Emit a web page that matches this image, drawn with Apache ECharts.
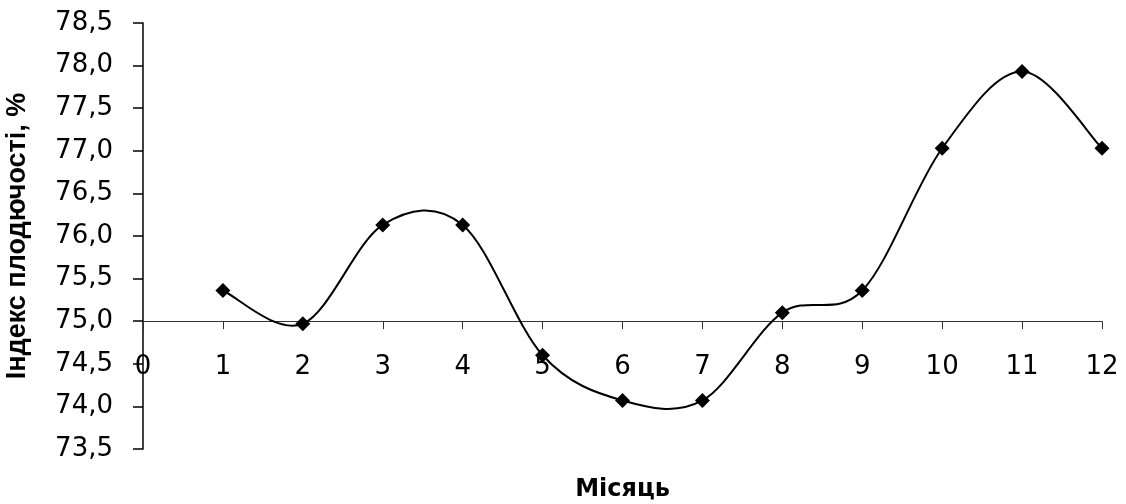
<!DOCTYPE html>
<html>
<head>
<meta charset="utf-8">
<script src="https://cdn.jsdelivr.net/npm/echarts@6/dist/echarts.min.js"></script>
<style>
  html, body { margin: 0; padding: 0; background: #fff; }
  #chart { width: 1126px; height: 504px; }
</style>
</head>
<body>
<div id="chart"></div>
<script>
// Fertility index by month
const months = [1, 2, 3, 4, 5, 6, 7, 8, 9, 10, 11, 12];
const fertilityIndex = [75.36, 74.97, 76.13, 76.13, 74.60, 74.07, 74.07, 75.10, 75.36, 77.03, 77.93, 77.03];

const yMin = 73.5, yMax = 78.5, yStep = 0.5;
const xMin = 0, xMax = 12, xStep = 1;
const crossAt = 75.0; // the month axis crosses the value axis here

const gridTop = 23, gridBottom = 55, gridLeft = 143, gridRight = 24;
const chartHeight = 504;
const plotHeight = chartHeight - gridTop - gridBottom;
// shift the month axis up from the grid bottom to the crossing value
const xAxisOffset = -((crossAt - yMin) / (yMax - yMin)) * plotHeight;

const numFont = '"DejaVu Sans", "Liberation Sans", sans-serif';
const titleFont = '"Liberation Sans", Arial, sans-serif';
const points = months.map((m, i) => [m, fertilityIndex[i]]);

// Catmull-Rom style smoothed segment between point i and i+1, in pixel space
function renderSegment(params, api) {
  const i = params.dataIndex;
  const n = points.length;
  if (i >= n - 1) return null;
  const p = j => api.coord(points[Math.max(0, Math.min(n - 1, j))]);
  const p0 = p(i - 1), p1 = p(i), p2 = p(i + 1), p3 = p(i + 2);
  const k = 1 / 6;
  return {
    type: 'bezierCurve',
    shape: {
      x1: p1[0], y1: p1[1],
      x2: p2[0], y2: p2[1],
      cpx1: p1[0] + (p2[0] - p0[0]) * k, cpy1: p1[1] + (p2[1] - p0[1]) * k,
      cpx2: p2[0] - (p3[0] - p1[0]) * k, cpy2: p2[1] - (p3[1] - p1[1]) * k
    },
    style: { stroke: '#000', lineWidth: 2, fill: null },
    silent: true
  };
}

const chart = echarts.init(document.getElementById('chart'));
chart.setOption({
  backgroundColor: '#ffffff',
  animation: false,
  grid: {
    top: gridTop, bottom: gridBottom, left: gridLeft, right: gridRight,
    containLabel: false,
    outerBoundsMode: 'none'
  },
  xAxis: {
    type: 'value',
    min: xMin, max: xMax, interval: xStep,
    position: 'bottom',
    offset: xAxisOffset,
    axisLine: { show: true, onZero: false, lineStyle: { color: '#333', width: 1 } },
    axisTick: { show: true, inside: false, length: 8, lineStyle: { color: '#333', width: 1 } },
    axisLabel: { color: '#000', fontFamily: numFont, fontSize: 26, margin: 33, showMinLabel: true, showMaxLabel: true },
    splitLine: { show: false },
    name: 'Місяць',
    nameLocation: 'middle',
    nameGap: 157,
    nameTextStyle: { color: '#000', fontFamily: numFont, fontSize: 24, fontWeight: 'bold' }
  },
  yAxis: {
    type: 'value',
    min: yMin, max: yMax, interval: yStep,
    axisLine: { show: true, lineStyle: { color: '#000', width: 1.5 } },
    axisTick: { show: true, inside: false, length: 10, lineStyle: { color: '#000', width: 1.5 } },
    axisLabel: {
      color: '#000', fontFamily: numFont, fontSize: 26, margin: 30,
      formatter: v => v.toFixed(1).replace('.', ',')
    },
    splitLine: { show: false },
    name: 'Індекс плодючості, %',
    nameLocation: 'middle',
    nameGap: 112,
    nameTextStyle: { color: '#000', fontFamily: titleFont, fontSize: 27, fontWeight: 'bold' }
  },
  series: [
    {
      type: 'custom',
      data: points,
      encode: { x: 0, y: 1 },
      renderItem: renderSegment,
      z: 2
    },
    {
      type: 'scatter',
      data: points,
      symbol: 'diamond',
      symbolSize: 15,
      itemStyle: { color: '#000', opacity: 1 },
      z: 3
    }
  ]
});
</script>
</body>
</html>
